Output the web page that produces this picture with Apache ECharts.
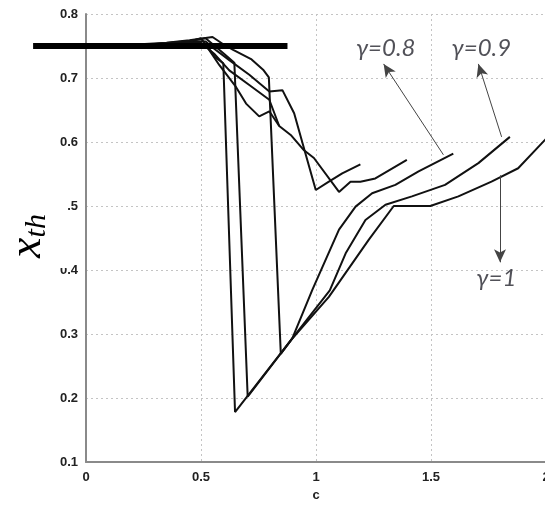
<!DOCTYPE html>
<html>
<head>
<meta charset="utf-8">
<script src="https://cdn.jsdelivr.net/npm/echarts@6/dist/echarts.min.js"></script>
<style>
html,body{margin:0;padding:0;background:#fff;}
#chart{width:545px;height:506px;}
</style>
</head>
<body>
<div id="chart"></div>
<script>
// ---- data (x = c, y = x_th) ----
const xAxisName = 'c';

const lowerG08 = [[0.02,0.75],[0.2,0.751],[0.35,0.753],[0.45,0.757],[0.5,0.762],[0.53,0.748],[0.56,0.733],[0.597,0.723],[0.648,0.178],[0.897,0.293],[0.984,0.369],[1.10,0.463],[1.172,0.499],[1.244,0.52],[1.345,0.533],[1.446,0.554],[1.597,0.582]];
const lowerG09 = [[0.02,0.75],[0.2,0.751],[0.35,0.754],[0.45,0.758],[0.52,0.762],[0.56,0.75],[0.6,0.738],[0.645,0.724],[0.703,0.202],[0.897,0.293],[1.06,0.368],[1.129,0.426],[1.215,0.478],[1.302,0.502],[1.417,0.515],[1.561,0.533],[1.706,0.567],[1.843,0.608]];
const lowerG10 = [[0.02,0.75],[0.2,0.752],[0.35,0.755],[0.45,0.759],[0.55,0.764],[0.6,0.752],[0.64,0.744],[0.72,0.729],[0.77,0.713],[0.795,0.701],[0.847,0.269],[0.897,0.293],[1.056,0.358],[1.229,0.447],[1.338,0.50],[1.497,0.50],[1.619,0.515],[1.763,0.538],[1.879,0.559],[2.0,0.605]];
const upper1 = [[0.02,0.75],[0.3,0.753],[0.45,0.758],[0.52,0.757],[0.56,0.745],[0.623,0.728],[0.71,0.705],[0.797,0.679],[0.854,0.681],[0.905,0.645],[0.948,0.59],[0.999,0.525],[1.056,0.538],[1.114,0.551],[1.193,0.565]];
const upper2 = [[0.02,0.75],[0.3,0.752],[0.45,0.756],[0.5,0.755],[0.56,0.737],[0.623,0.712],[0.71,0.689],[0.797,0.666],[0.84,0.625],[0.89,0.611],[0.948,0.587],[0.991,0.575],[1.10,0.522],[1.15,0.538],[1.193,0.538],[1.258,0.543],[1.395,0.572]];
const upper3 = [[0.02,0.75],[0.3,0.752],[0.45,0.755],[0.52,0.752],[0.58,0.72],[0.652,0.686],[0.696,0.66],[0.753,0.64],[0.797,0.648],[0.84,0.625]];

const thresholdLine = [[-0.23,0.75],[0.876,0.75]];

const gammaLabels = [[1.303,0.747,'γ=0.8'],[1.719,0.747,'γ=0.9'],[1.784,0.3875,'γ=1']];
const arrowG08 = [[1.554,0.580],[1.294,0.722]];
const arrowG09 = [[1.807,0.608],[1.706,0.722]];
const arrowG10 = [[1.80,0.548],[1.80,0.412]];

// ---- chart ----
const chart = echarts.init(document.getElementById('chart'), null, {renderer:'canvas'});
const curveStyle = {color:'#111', width:2};
function curve(data){
  return {type:'line', data:data, showSymbol:false, symbol:'none', lineStyle:curveStyle, itemStyle:{color:'#111'}, silent:true, z:3};
}
const arrowLine = a => [{coord:a[0]},{coord:a[1]}];

const labelGraphics = [
  {id:'mask', type:'rect', z:100, shape:{x:8, y:186, width:59, height:82}, style:{fill:'#fff'}},
  {id:'ylabel', type:'text', z:101, x:28, y:236, rotation:Math.PI/2, originX:0, originY:0,
    style:{
      text:'{a|x}{b|th}', align:'center', verticalAlign:'middle',
      rich:{
        a:{fontFamily:'Liberation Serif', fontStyle:'italic', fontSize:46, fill:'#000'},
        b:{fontFamily:'Liberation Serif', fontStyle:'italic', fontSize:30, fill:'#000', verticalAlign:'bottom', padding:[18,0,0,0]}
      }
    }}
];

chart.setOption({
  animation:false,
  backgroundColor:'#fff',
  grid:{left:86, top:14, width:460, height:448, containLabel:false, outerBoundsMode:'none'},
  xAxis:{
    type:'value', min:0, max:2, interval:0.5,
    name:xAxisName, nameLocation:'middle', nameGap:25,
    nameTextStyle:{fontSize:13, fontWeight:'bold', color:'#222', fontFamily:'Liberation Sans'},
    axisLine:{show:true, onZero:false, lineStyle:{color:'#8a8a8a', width:2}},
    axisTick:{show:false},
    axisLabel:{fontSize:13, fontWeight:'bold', color:'#222', margin:9, fontFamily:'Liberation Sans',
      hideOverlap:false, formatter:v=>String(v)},
    splitLine:{show:true, lineStyle:{color:'#c4c4c4', type:[2,3], width:1}}
  },
  yAxis:{
    type:'value', min:0.1, max:0.8, interval:0.1,
    axisLine:{show:true, onZero:false, lineStyle:{color:'#8a8a8a', width:2}},
    axisTick:{show:false},
    axisLabel:{fontSize:13, fontWeight:'bold', color:'#222', margin:8, fontFamily:'Liberation Sans',
      formatter:v=>v.toFixed(1)},
    splitLine:{show:true, lineStyle:{color:'#c4c4c4', type:[2,3], width:1}}
  },
  graphic:labelGraphics,
  series:[
    curve(upper1), curve(upper2), curve(upper3),
    curve(lowerG08), curve(lowerG09), curve(lowerG10),
    {type:'scatter', data:gammaLabels, symbolSize:0, silent:true, z:5,
      label:{show:true, position:'inside', formatter:p=>p.value[2], fontSize:24, fontStyle:'italic',
        fontFamily:'Lato', color:'#26262e'},
      markLine:{silent:true, symbol:['none','arrow'], symbolSize:[9,13], label:{show:false},
        lineStyle:{color:'#444', width:1, type:'solid'},
        data:[arrowLine(arrowG08), arrowLine(arrowG09), arrowLine(arrowG10)]}
    }
  ]
});

// thick threshold line extends beyond the plot area: draw it through the axis scale
const p0 = chart.convertToPixel({gridIndex:0}, thresholdLine[0]);
const p1 = chart.convertToPixel({gridIndex:0}, thresholdLine[1]);
chart.setOption({graphic: labelGraphics.concat([
  {id:'threshold', type:'line', z:50, shape:{x1:p0[0], y1:p0[1], x2:p1[0], y2:p1[1]},
    style:{stroke:'#000', lineWidth:6, lineCap:'butt'}}
])});
</script>
</body>
</html>
